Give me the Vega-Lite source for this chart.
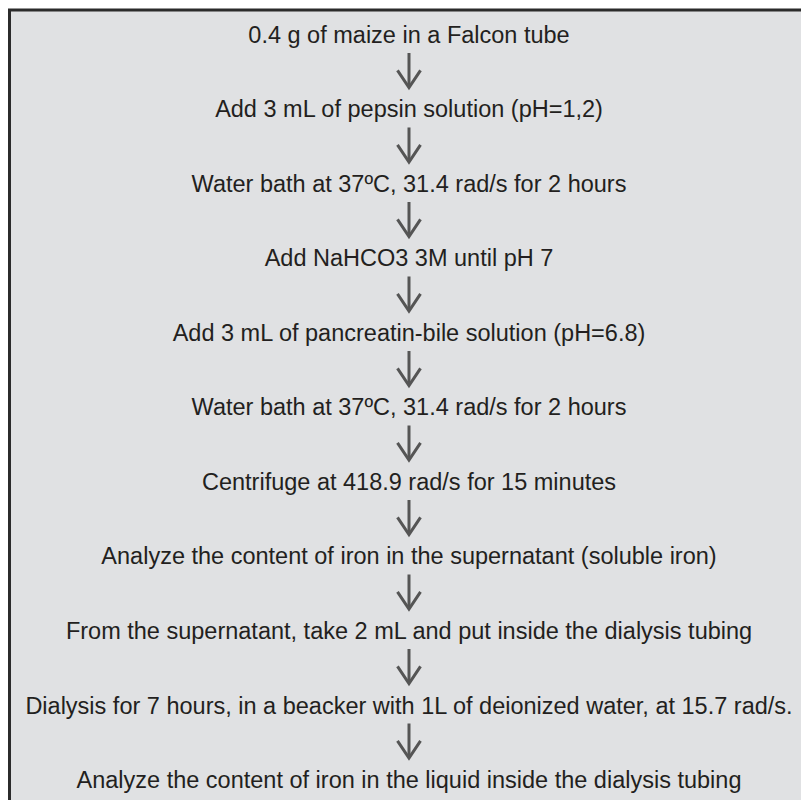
{
  "$schema": "https://vega.github.io/schema/vega-lite/v6.json",
  "autosize": {"type": "fit", "contains": "padding"},
  "width": 801,
  "height": 800,
  "padding": 0,
  "background": "#ffffff",
  "config": {"view": {"stroke": null}},
  "data": {
    "values": [
      {"step": 0, "label": "0.4 g of maize in a Falcon tube"},
      {"step": 1, "label": "Add 3 mL of pepsin solution (pH=1,2)"},
      {"step": 2, "label": "Water bath at 37ºC, 31.4 rad/s for 2 hours"},
      {"step": 3, "label": "Add NaHCO3 3M until pH 7"},
      {"step": 4, "label": "Add 3 mL of pancreatin-bile solution (pH=6.8)"},
      {"step": 5, "label": "Water bath at 37ºC, 31.4 rad/s for 2 hours"},
      {"step": 6, "label": "Centrifuge at 418.9 rad/s for 15 minutes"},
      {"step": 7, "label": "Analyze the content of iron in the supernatant (soluble iron)"},
      {"step": 8, "label": "From the supernatant, take 2 mL and put inside the dialysis tubing"},
      {"step": 9, "label": "Dialysis for 7 hours, in a beacker with 1L of deionized water, at 15.7 rad/s."},
      {"step": 10, "label": "Analyze the content of iron in the liquid inside the dialysis tubing"}
    ]
  },
  "encoding": {
    "x": {"datum": 409, "type": "quantitative", "scale": {"domain": [0, 801], "nice": false, "zero": false}, "axis": null},
    "y": {"field": "step", "type": "quantitative", "scale": {"domain": [-0.483, 10.255], "nice": false, "zero": false, "reverse": true}, "axis": null}
  },
  "layer": [
    {
      "mark": {"type": "rect", "fill": "#e0e1e3", "stroke": "#2b2b2b", "strokeWidth": 3, "clip": true},
      "encoding": {
        "x": {"datum": 9.5, "type": "quantitative"},
        "x2": {"datum": 830},
        "y": {"datum": -0.35, "type": "quantitative"},
        "y2": {"datum": 12}
      },
      "transform": [{"filter": "datum.step == 0"}]
    },
    {
      "transform": [{"filter": "datum.step < 10"}],
      "mark": {"type": "rule", "stroke": "#555555", "strokeWidth": 3, "yOffset": 17, "y2Offset": 51},
      "encoding": {
        "y2": {"field": "step"}
      }
    },
    {
      "transform": [{"filter": "datum.step < 10"}],
      "mark": {"type": "point", "shape": "M-1,-0.75L0,0.75L1,-0.75", "size": 530, "filled": false, "stroke": "#555555", "strokeWidth": 3, "strokeJoin": "miter", "strokeCap": "butt", "opacity": 1, "yOffset": 43}
    },
    {
      "mark": {"type": "text", "font": "Liberation Sans Narrow, Arial Narrow, Liberation Sans", "fontSize": 23.5, "fill": "#231f20", "align": "center", "baseline": "middle"},
      "encoding": {"text": {"field": "label"}}
    }
  ]
}
